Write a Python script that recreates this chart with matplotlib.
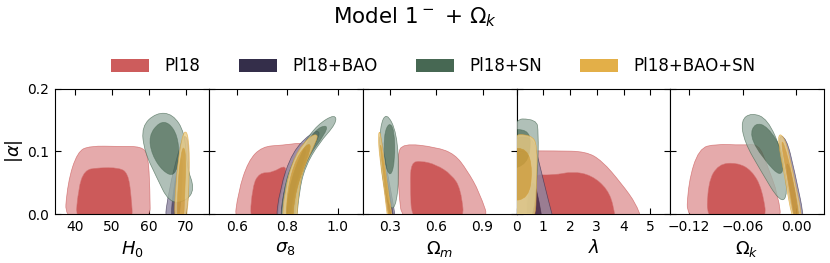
import numpy as np
import matplotlib
matplotlib.use('Agg')
import matplotlib.pyplot as plt
from matplotlib.path import Path
from matplotlib.patches import PathPatch, Patch

# datasets, legend colours and (outer face, inner face, alpha) as drawn
labels = ['Pl18', 'Pl18+BAO', 'Pl18+SN', 'Pl18+BAO+SN']
legend_colors = ['#cd5c5c', '#342e4a', '#476853', '#e3af48']
outer_faces = ['#e5aaab', '#8e86a1', '#9db1a6', '#eccd85']
inner_faces = ['#cc5a5a', '#3a3050', '#476853', '#dea539']
alphas = [1.0, 0.8, 0.8, 0.8]

# panels
xlabels = [r'$H_0$', r'$\sigma_8$', r'$\Omega_m$', r'$\lambda$', r'$\Omega_k$']
xlims = [(34.5, 76.3), (0.489, 1.099), (0.126, 1.119), (0.0, 5.75), (-0.1409, 0.0313)]
xticks = [[40, 50, 60, 70], [0.6, 0.8, 1.0], [0.3, 0.6, 0.9], [0, 1, 2, 3, 4, 5], [-0.12, -0.06, 0.0]]
xticklabels = [['40', '50', '60', '70'], ['0.6', '0.8', '1.0'], ['0.3', '0.6', '0.9'],
               ['0', '1', '2', '3', '4', '5'], ['\u22120.12', '\u22120.06', '0.00']]
yticks = [0.0, 0.1, 0.2]
yticklabels = ['0.0', '0.1', '0.2']

# contour outlines (control points): (95% outer, 68% inner)
h0_pl18 = ([(37.0, -0.02), (37.9, 0.05), (40.6, 0.1), (44, 0.109), (52, 0.108), (58, 0.108), (59.8, 0.095), (60.3, 0.04), (60.4, -0.02)],
           [(40.0, -0.02), (40.8, 0.04), (42.5, 0.07), (46, 0.074), (52, 0.074), (54.3, 0.065), (55.2, 0.03), (55.7, -0.02)])
h0_bao = ([(64.0, -0.02), (65.5, 0.04), (68.0, 0.1), (69.7, 0.13), (71.0, 0.11), (70.6, -0.02)],
          [(65.8, -0.02), (66.6, 0.04), (68.5, 0.09), (69.3, 0.085), (68.3, -0.02)])
h0_sn = ([(62.0, 0.162), (58.0, 0.14), (58.8, 0.1), (62.0, 0.06), (65.5, 0.018), (70.0, 0.02), (72.5, 0.04), (70.3, 0.075), (69.8, 0.13), (66.5, 0.16)],
         [(62.8, 0.147), (60.0, 0.125), (60.8, 0.095), (63.8, 0.068), (67.0, 0.060), (68.3, 0.09), (67.8, 0.125), (65.5, 0.146)])
h0_all = ([(66.8, -0.02), (67.3, 0.05), (68.4, 0.105), (69.6, 0.135), (70.8, 0.125), (71.1, 0.07), (70.3, -0.02)],
          [(67.6, -0.02), (67.9, 0.05), (68.7, 0.095), (69.5, 0.11), (70.1, 0.09), (69.8, 0.04), (69.4, -0.02)])

s8_pl18 = ([(0.588, -0.02), (0.605, 0.035), (0.645, 0.085), (0.70, 0.108), (0.780, 0.11), (0.880, 0.115), (0.855, 0.095), (0.815, 0.065), (0.785, 0.025), (0.772, -0.02)],
           [(0.65, -0.02), (0.662, 0.045), (0.69, 0.066), (0.74, 0.066), (0.80, 0.08), (0.785, 0.05), (0.765, 0.01), (0.76, -0.02)])
s8_bao = ([(0.752, -0.02), (0.77, 0.04), (0.82, 0.1), (0.90, 0.132), (0.935, 0.132), (0.90, 0.105), (0.85, 0.06), (0.83, 0.02), (0.828, -0.02)],
          [(0.77, -0.02), (0.785, 0.04), (0.83, 0.09), (0.88, 0.11), (0.86, 0.08), (0.82, 0.03), (0.81, -0.02)])
s8_sn = ([(0.772, -0.02), (0.785, 0.035), (0.81, 0.075), (0.865, 0.113), (0.92, 0.143), (0.99, 0.16), (0.995, 0.145), (0.925, 0.113), (0.87, 0.075), (0.847, 0.035), (0.835, -0.02)],
         [(0.79, -0.02), (0.805, 0.04), (0.85, 0.095), (0.91, 0.135), (0.96, 0.143), (0.95, 0.128), (0.88, 0.09), (0.84, 0.04), (0.83, -0.02)])
s8_all = ([(0.778, -0.02), (0.79, 0.04), (0.83, 0.095), (0.89, 0.125), (0.925, 0.128), (0.905, 0.108), (0.86, 0.07), (0.84, 0.02), (0.838, -0.02)],
          [(0.795, -0.02), (0.80, 0.04), (0.835, 0.09), (0.885, 0.115), (0.895, 0.105), (0.855, 0.065), (0.825, 0.02), (0.823, -0.02)])

om_pl18 = ([(0.385, -0.02), (0.356, 0.04), (0.350, 0.095), (0.385, 0.113), (0.60, 0.107), (0.72, 0.096), (0.80, 0.07), (0.88, 0.035), (0.955, -0.02)],
           [(0.445, -0.02), (0.432, 0.05), (0.44, 0.082), (0.50, 0.085), (0.60, 0.079), (0.70, 0.063), (0.76, 0.04), (0.785, -0.02)])
om_bao = ([(0.23, 0.122), (0.245, 0.125), (0.29, 0.06), (0.35, -0.02), (0.30, -0.02), (0.255, 0.06)],
          [(0.25, 0.09), (0.258, 0.09), (0.31, 0.02), (0.335, -0.02), (0.312, -0.02), (0.28, 0.03)])
om_sn = ([(0.28, 0.163), (0.236, 0.14), (0.238, 0.08), (0.29, 0.012), (0.338, 0.008), (0.362, 0.06), (0.347, 0.13)],
         [(0.295, 0.147), (0.262, 0.125), (0.268, 0.08), (0.305, 0.058), (0.335, 0.085), (0.33, 0.135)])
om_all = ([(0.225, 0.128), (0.24, 0.133), (0.262, 0.09), (0.30, 0.02), (0.33, -0.02), (0.292, -0.02), (0.27, 0.03), (0.235, 0.09)],
          [(0.238, 0.11), (0.246, 0.11), (0.285, 0.04), (0.318, -0.02), (0.302, -0.02), (0.27, 0.04)])

lam_pl18 = ([(-0.3, -0.02), (-0.3, 0.101), (1.5, 0.101), (2.6, 0.1), (3.2, 0.085), (3.9, 0.05), (4.5, 0.015), (4.75, -0.02)],
            [(0.3, -0.02), (0.4, 0.063), (1.4, 0.062), (2.1, 0.068), (2.8, 0.062), (3.4, 0.04), (3.65, 0.01), (3.7, -0.02)])
lam_bao = ([(-0.3, 0.12), (0.6, 0.125), (0.8, 0.09), (1.2, 0.02), (1.45, -0.02), (-0.3, -0.02)],
           [(0.35, -0.02), (0.45, 0.04), (0.65, 0.055), (0.85, 0.02), (1.0, -0.02)])
lam_sn = ([(-0.3, 0.152), (0.75, 0.152), (0.82, 0.13), (0.8, 0.07), (0.6, -0.02), (-0.3, -0.02)],
          [(-0.3, 0.135), (0.4, 0.135), (0.55, 0.115), (0.4, 0.08), (-0.3, 0.07)])
lam_all = ([(-0.3, 0.127), (0.55, 0.127), (0.78, 0.11), (0.75, 0.05), (0.7, -0.02), (-0.3, -0.02)],
           [(-0.3, 0.105), (0.4, 0.105), (0.6, 0.07), (0.45, 0.025), (-0.3, 0.02)])

ok_pl18 = ([(-0.123, -0.02), (-0.121, 0.05), (-0.109, 0.105), (-0.09, 0.112), (-0.06, 0.11), (-0.042, 0.112), (-0.033, 0.08), (-0.02, 0.03), (-0.016, -0.02)],
           [(-0.1, -0.02), (-0.099, 0.05), (-0.087, 0.08), (-0.066, 0.082), (-0.05, 0.07), (-0.038, 0.04), (-0.032, -0.02)])
ok_bao = ([(-0.021, 0.126), (-0.011, 0.122), (-0.002, 0.07), (0.011, -0.02), (-0.001, -0.02), (-0.012, 0.06)],
          [(-0.012, 0.08), (-0.008, 0.08), (0.0, 0.03), (0.006, -0.02), (0.0, -0.02), (-0.006, 0.03)])
ok_sn = ([(-0.05, 0.162), (-0.062, 0.15), (-0.058, 0.115), (-0.04, 0.07), (-0.018, 0.018), (-0.009, 0.03), (-0.016, 0.1), (-0.032, 0.152)],
         [(-0.046, 0.146), (-0.052, 0.125), (-0.038, 0.09), (-0.015, 0.055), (-0.014, 0.1), (-0.032, 0.14)])
ok_all = ([(-0.022, 0.128), (-0.013, 0.125), (-0.004, 0.07), (0.009, -0.02), (-0.003, -0.02), (-0.013, 0.06)],
          [(-0.017, 0.115), (-0.014, 0.115), (-0.004, 0.06), (0.005, -0.02), (-0.001, -0.02), (-0.01, 0.06)])

panel_contours = [[h0_pl18, h0_bao, h0_sn, h0_all],
                  [s8_pl18, s8_bao, s8_sn, s8_all],
                  [om_pl18, om_bao, om_sn, om_all],
                  [lam_pl18, lam_bao, lam_sn, lam_all],
                  [ok_pl18, ok_bao, ok_sn, ok_all]]


def oriented(pts, ccw=True):
    p = np.asarray(pts, float)
    area = np.sum(p[:, 0] * np.roll(p[:, 1], -1) - np.roll(p[:, 0], -1) * p[:, 1])
    return p if (area > 0) == ccw else p[::-1]


def smooth(p):
    # closed quadratic B-spline through the control polygon
    mids = (p + np.roll(p, -1, axis=0)) / 2
    verts, codes = [mids[-1]], [Path.MOVETO]
    for c, m in zip(p, mids):
        verts += [c, m]; codes += [Path.CURVE3, Path.CURVE3]
    return Path(verts, codes)


fig, axes = plt.subplots(1, 5, figsize=(8.3, 2.63), dpi=100, sharey=True)
fig.subplots_adjust(left=0.0663, right=0.993, bottom=0.186, top=0.662, wspace=0)

for i, ax in enumerate(axes):
    for k, (outer, inner) in enumerate(panel_contours[i]):
        po = smooth(oriented(outer, True)); pi = smooth(oriented(inner, False))
        ring = Path.make_compound_path(po, pi)
        ax.add_patch(PathPatch(ring, fc=outer_faces[k], ec='none', alpha=alphas[k], zorder=2 + k))
        ax.add_patch(PathPatch(pi, fc=inner_faces[k], ec='none', alpha=alphas[k], zorder=2 + k))
        for p in (po, pi):
            ax.add_patch(PathPatch(p, fc='none', ec=inner_faces[k], lw=0.5, alpha=0.7, zorder=2 + k))
    ax.set_xlim(*xlims[i]); ax.set_ylim(0, 0.2)
    ax.set_xticks(xticks[i]); ax.set_xticklabels(xticklabels[i])
    ax.set_yticks(yticks); ax.set_yticklabels(yticklabels)
    ax.tick_params(direction='in', top=True, right=True, length=4, width=0.8, labelsize=10,
                   labelleft=(i == 0), pad=4)
    ax.set_xlabel(xlabels[i], fontsize=13, labelpad=4)
    for s in ax.spines.values():
        s.set_linewidth(0.8)

axes[0].set_ylabel(r'$|\alpha|$', fontsize=13, labelpad=2)

handles = [Patch(fc=c, ec='none') for c in legend_colors]
fig.legend(handles, labels, loc='center', bbox_to_anchor=(0.522, 0.749), ncol=4, frameon=False,
           fontsize=12, handlelength=2.3, handleheight=0.8, handletextpad=0.9, columnspacing=2.3)
fig.text(0.5, 0.935, r'Model $1^-$ + $\Omega_k$', ha='center', va='center', fontsize=15.5)

fig.savefig('out.png', dpi=100)
